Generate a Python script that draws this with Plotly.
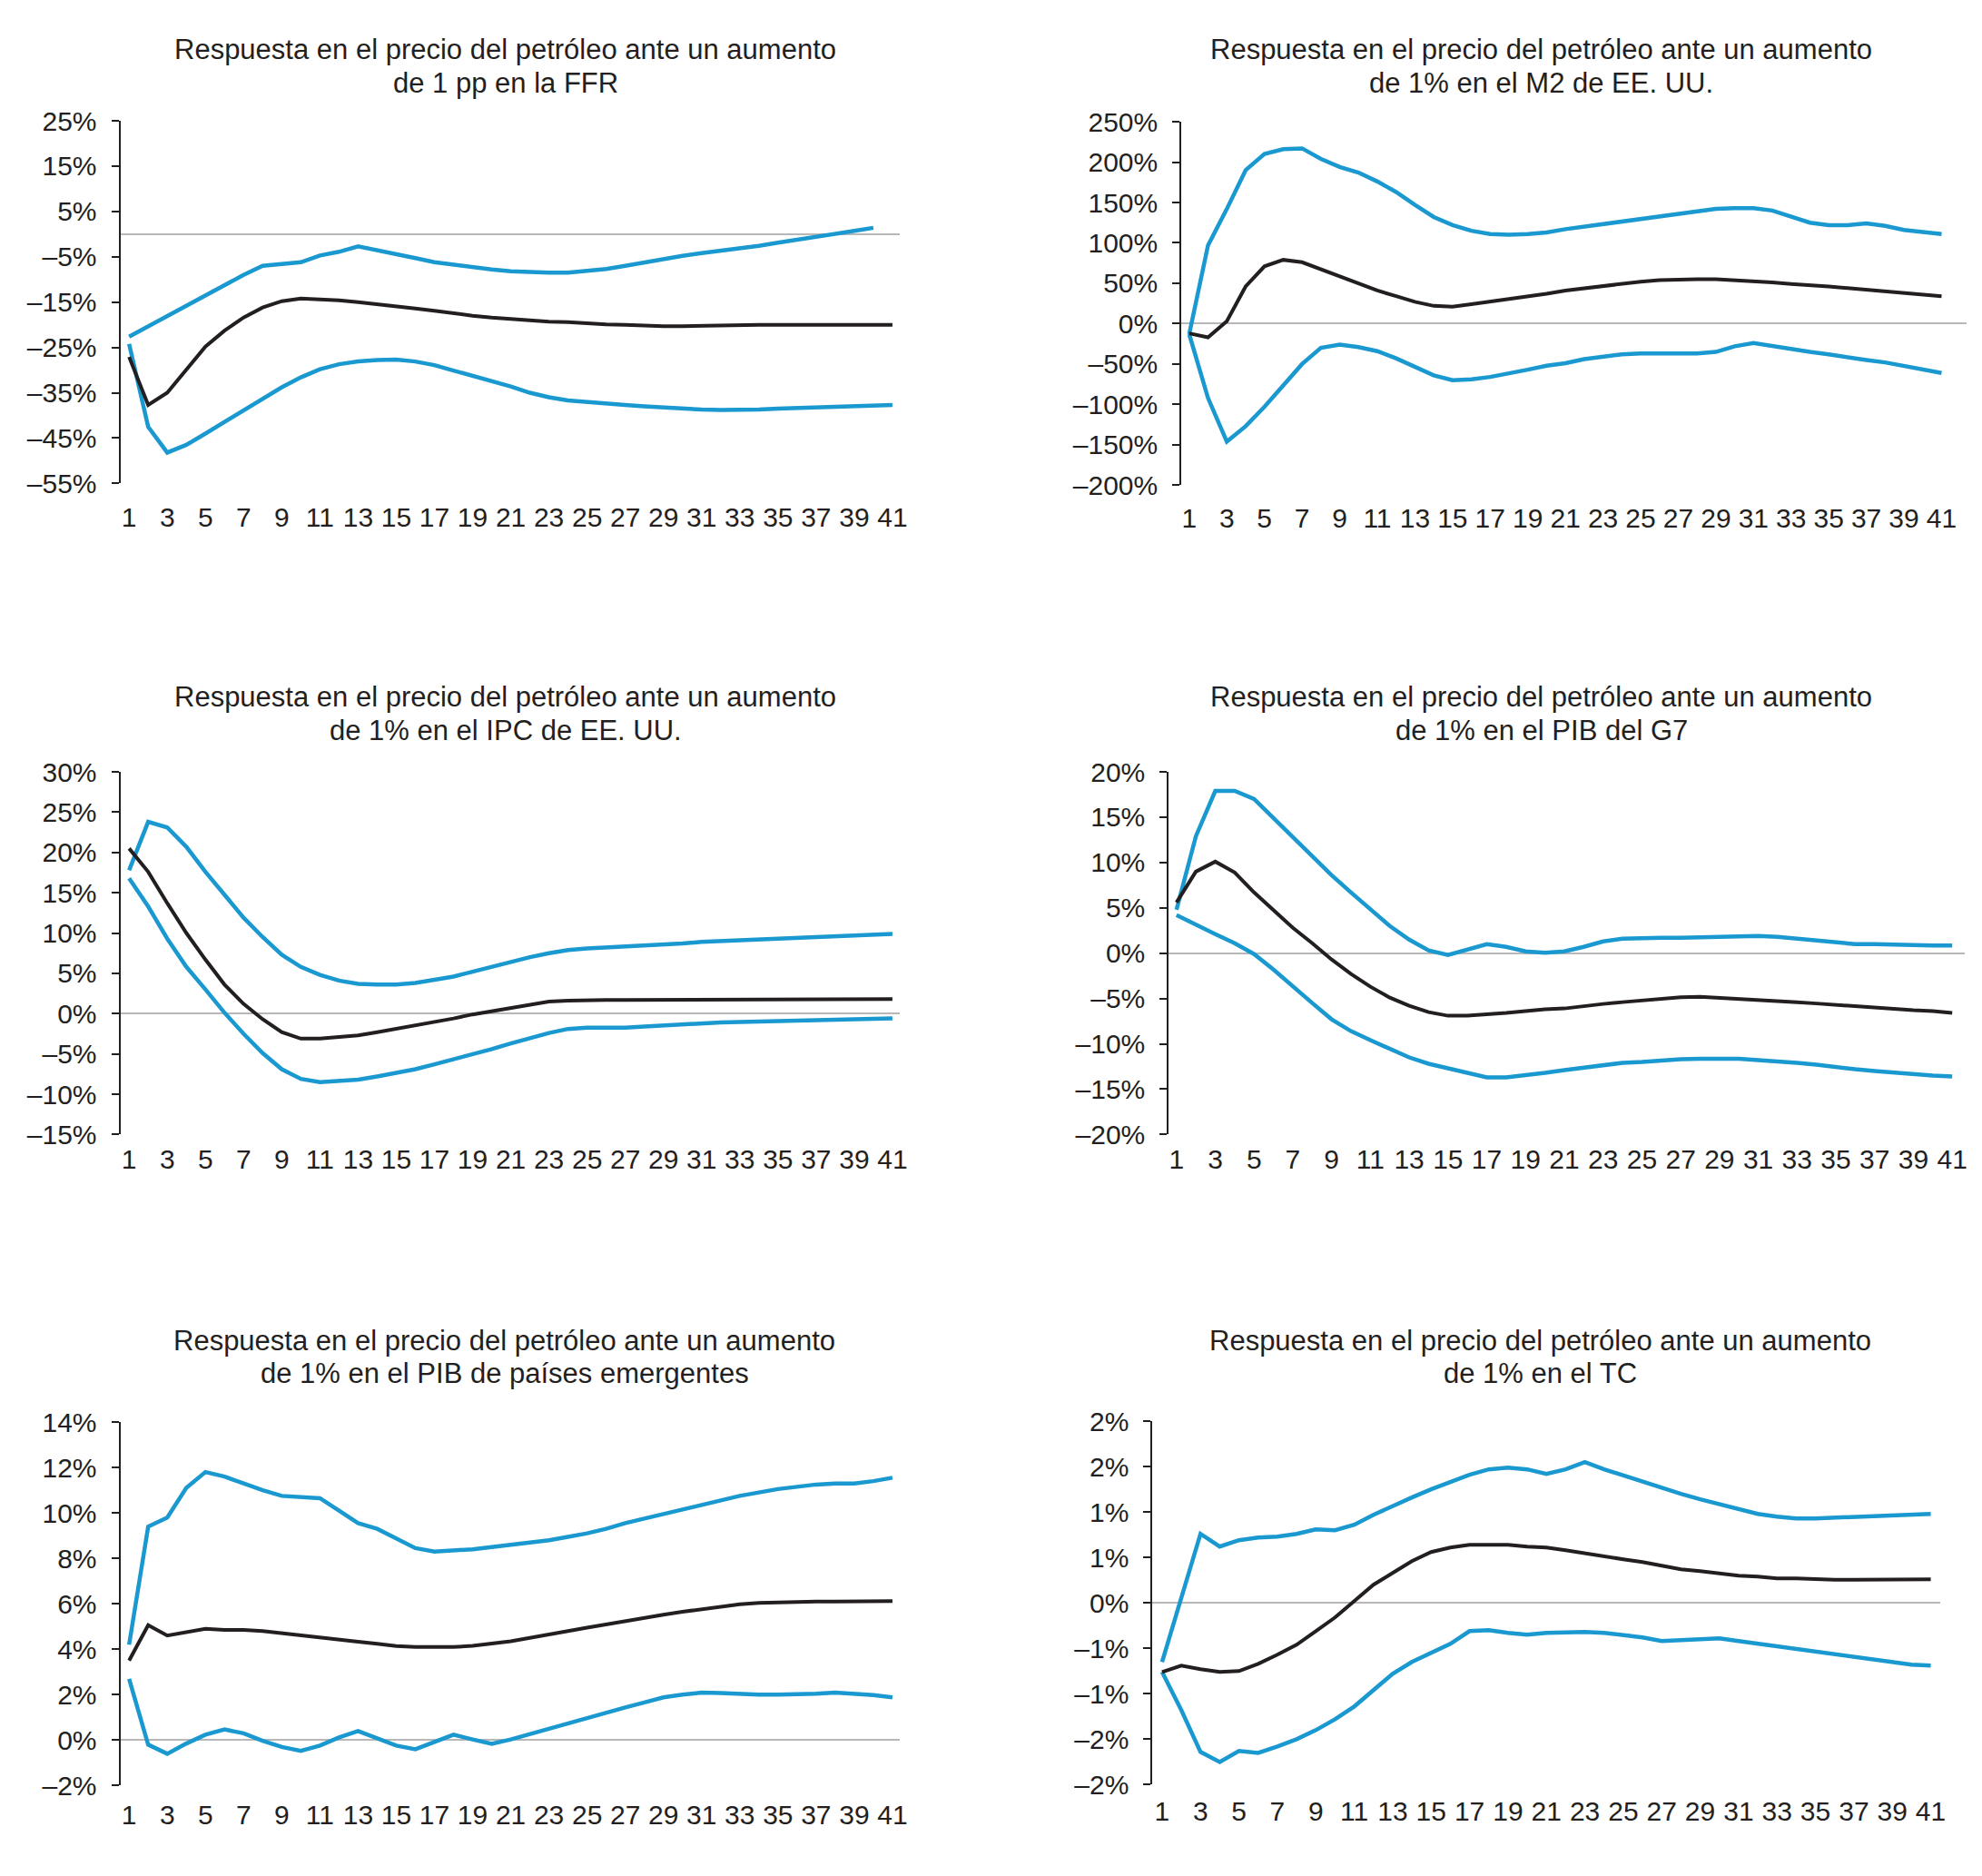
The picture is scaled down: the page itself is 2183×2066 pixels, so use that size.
import plotly.graph_objects as go

# ---------------- data ----------------
periods = list(range(1, 42))
x_tick_vals = list(range(1, 42, 2))
x_tick_text = [str(v) for v in x_tick_vals]

title_line1 = "Respuesta en el precio del petróleo ante un aumento"
titles_line2 = [
    "de 1 pp en la FFR",
    "de 1% en el M2 de EE. UU.",
    "de 1% en el IPC de EE. UU.",
    "de 1% en el PIB del G7",
    "de 1% en el PIB de países emergentes",
    "de 1% en el TC",
]

# Panel 1: FFR
ffr_upper = [-22.6, -20.3, -18.1, -15.8, -13.6, -11.3, -9.0, -7.0, -6.7, -6.2, -4.7, -3.9, -2.7, -3.5,
             -4.3, -5.3, -6.2, -6.8, -7.3, -7.8, -8.2, -8.4, -8.5, -8.5, -8.2, -7.7, -7.0, -6.2, -5.4,
             -4.8, -4.2, -3.7, -3.2, -2.6, -1.9, -1.3, -0.6, 0.1, 0.7, 1.4, None]
ffr_mid = [-27.1, -37.7, -35.0, -29.8, -24.8, -21.3, -18.4, -16.2, -14.8, -14.2, -14.3, -14.6, -15.0,
           -15.4, -15.8, -16.4, -16.9, -17.5, -18.0, -18.4, -18.7, -19.0, -19.3, -19.4, -19.7, -19.9,
           -20.0, -20.2, -20.3, -20.3, -20.2, -20.1, -20.0, -20.0, -20.0, -20.0, -20.0, -20.0, -20.0,
           -20.0, -20.0]
ffr_lower = [-24.2, -42.5, -48.2, -46.5, -44.0, -41.5, -39.0, -36.3, -33.8, -31.6, -29.8, -28.7, -28.1,
             -27.8, -27.7, -28.1, -28.9, -30.1, -31.2, -32.4, -33.6, -35.0, -36.0, -36.7, -37.1, -37.4,
             -37.7, -38.0, -38.3, -38.5, -38.7, -38.8, -38.8, -38.7, -38.5, -38.4, -38.2, -38.1, -37.9,
             -37.8, -37.7]

# Panel 2: M2
m2_upper = [-13, 97, 142, 190, 210, 216, 217, 204, 194, 187, 176, 163, 147, 132, 122, 115, 111, 110,
            111, 113, 117, 120, 123, 127, 130, 133, 136, 139, 142, 143, 143, 140, 132, 125, 122, 122,
            124, 121, 116, 113, 111]
m2_mid = [-12, -17, 3, 46, 71, 79, 76, 67, 58, 50, 41, 34, 27, 22, 21, 24, 27, 31, 34, 37, 41, 44, 47,
          50, 52, 54, 55, 55, 55, 54, 52, 51, 49, 48, 46, 44, 42, 40, 38, 36, 34]
m2_lower = [-13, -92, -146, -127, -103, -76, -50, -30, -26, -29, -34, -43, -54, -64, -70, -69, -66,
            -62, -57, -52, -49, -44, -41, -38, -37, -37, -37, -37, -35, -28, -24, -28, -32, -35, -38,
            -42, -45, -48, -52, -56, -61]

# Panel 3: IPC
ipc_upper = [17.8, 23.8, 23.1, 20.7, 17.6, 14.7, 11.9, 9.5, 7.3, 5.8, 4.8, 4.1, 3.7, 3.6, 3.6, 3.8,
             4.2, 4.6, 5.2, 5.8, 6.5, 7.0, 7.5, 7.9, 8.1, 8.2, 8.4, 8.5, 8.6, 8.7, 8.9, 9.0, 9.1, 9.2,
             9.3, 9.4, 9.5, 9.6, 9.7, 9.8, 9.9]
ipc_mid = [20.5, 17.6, 13.7, 10.0, 6.7, 3.6, 1.2, -0.7, -2.3, -3.1, -3.1, -2.9, -2.7, -2.3, -1.9, -1.5,
           -1.05, -0.6, -0.1, 0.3, 0.8, 1.2, 1.5, 1.6, 1.7, 1.7, 1.7, 1.7, 1.7, 1.7, 1.7, 1.7, 1.7,
           1.7, 1.7, 1.7, 1.7, 1.7, 1.75, 1.8, 1.8]
ipc_lower = [16.8, 13.3, 9.3, 5.8, 3.0, 0.1, -2.5, -4.9, -6.9, -8.1, -8.5, -8.4, -8.2, -7.8, -7.4,
             -6.9, -6.3, -5.7, -5.0, -4.4, -3.7, -3.0, -2.4, -1.9, -1.75, -1.75, -1.75, -1.6, -1.45,
             -1.3, -1.2, -1.1, -1.05, -1.0, -0.95, -0.9, -0.8, -0.75, -0.7, -0.65, -0.6]

# Panel 4: PIB G7
g7_upper = [4.8, 12.9, 17.9, 17.9, 17.0, 14.9, 12.7, 10.6, 8.6, 6.7, 4.8, 3.0, 1.5, 0.3, -0.2, 0.4,
            1.0, 0.7, 0.2, 0.05, 0.2, 0.7, 1.3, 1.6, 1.7, 1.7, 1.7, 1.75, 1.8, 1.85, 1.9, 1.8, 1.6,
            1.4, 1.2, 1.0, 1.0, 0.9, 0.9, 0.85, 0.85]
g7_mid = [5.6, 9.0, 10.1, 8.9, 6.7, 4.7, 2.8, 1.1, -0.7, -2.3, -3.7, -4.9, -5.8, -6.5, -6.9, -6.9,
          -6.8, -6.6, -6.4, -6.2, -6.1, -5.8, -5.6, -5.4, -5.2, -5.0, -4.85, -4.8, -4.9, -5.0, -5.2,
          -5.3, -5.4, -5.55, -5.7, -5.9, -6.0, -6.2, -6.3, -6.4, -6.6]
g7_lower = [4.2, 3.1, 2.1, 1.1, -0.1, -1.8, -3.7, -5.5, -7.3, -8.6, -9.6, -10.6, -11.5, -12.2, -12.7,
            -13.3, -13.7, -13.7, -13.5, -13.2, -12.9, -12.6, -12.3, -12.1, -12.0, -11.8, -11.7,
            -11.65, -11.6, -11.65, -11.8, -11.9, -12.1, -12.3, -12.6, -12.8, -13.0, -13.2, -13.3,
            -13.5, -13.6]

# Panel 5: PIB emergentes
em_upper = [4.2, 9.4, 9.8, 11.1, 11.8, 11.6, 11.3, 11.0, 10.75, 10.7, 10.65, 10.1, 9.55, 9.3, 8.85,
            8.45, 8.3, 8.35, 8.4, 8.5, 8.6, 8.7, 8.8, 8.95, 9.1, 9.3, 9.55, 9.75, 9.95, 10.15, 10.35,
            10.55, 10.75, 10.9, 11.05, 11.15, 11.25, 11.3, 11.3, 11.4, 11.55]
em_mid = [3.5, 5.06, 4.6, 4.75, 4.9, 4.85, 4.85, 4.8, 4.7, 4.6, 4.5, 4.4, 4.33, 4.24, 4.14, 4.1, 4.08,
          4.1, 4.15, 4.24, 4.35, 4.5, 4.63, 4.8, 4.95, 5.1, 5.25, 5.4, 5.52, 5.65, 5.77, 5.88, 5.98,
          6.04, 6.07, 6.09, 6.1, 6.1, 6.1, 6.1, 6.12]
em_lower = [2.7, -0.2, -0.6, -0.15, 0.24, 0.47, 0.3, -0.03, -0.3, -0.47, -0.24, 0.12, 0.4, 0.08,
            -0.24, -0.4, -0.08, 0.24, 0.03, -0.16, 0.03, 0.27, 0.5, 0.74, 0.97, 1.2, 1.44, 1.66, 1.88,
            2.0, 2.09, 2.07, 2.02, 2.0, 2.0, 2.0, 2.04, 2.09, 2.04, 1.98, 1.88]

# Panel 6: TC
tc_upper = [-0.65, 0.06, 0.76, 0.62, 0.69, 0.72, 0.73, 0.76, 0.81, 0.8, 0.86, 0.97, 1.07, 1.16, 1.25,
            1.33, 1.41, 1.47, 1.49, 1.47, 1.42, 1.47, 1.55, 1.47, 1.4, 1.33, 1.27, 1.2, 1.14, 1.09,
            1.03, 0.98, 0.95, 0.93, 0.93, 0.94, 0.95, 0.96, 0.97, 0.98, 0.98]
tc_mid = [-0.76, -0.69, -0.73, -0.76, -0.75, -0.67, -0.57, -0.46, -0.31, -0.16, 0.02, 0.2, 0.33, 0.46,
          0.56, 0.61, 0.64, 0.64, 0.64, 0.62, 0.61, 0.58, 0.55, 0.52, 0.48, 0.45, 0.41, 0.37, 0.35,
          0.32, 0.3, 0.29, 0.27, 0.27, 0.26, 0.255, 0.255, 0.255, 0.255, 0.255, 0.26]
tc_lower = [-0.76, -1.18, -1.64, -1.75, -1.63, -1.65, -1.58, -1.5, -1.4, -1.28, -1.14, -0.96, -0.78,
            -0.65, -0.55, -0.45, -0.31, -0.3, -0.33, -0.35, -0.33, -0.32, -0.32, -0.33, -0.35, -0.38,
            -0.42, -0.41, -0.39, -0.39, -0.42, -0.45, -0.48, -0.51, -0.54, -0.57, -0.6, -0.63,
            -0.65, -0.68, -0.69]

# y tick values and labels
p1_ticks = [-55, -45, -35, -25, -15, -5, 5, 15, 25]
p1_labels = ["–55%", "–45%", "–35%", "–25%", "–15%", "–5%", "5%", "15%", "25%"]
p2_ticks = [-200, -150, -100, -50, 0, 50, 100, 150, 200, 250]
p2_labels = ["–200%", "–150%", "–100%", "–50%", "0%", "50%", "100%", "150%", "200%", "250%"]
p3_ticks = [-15, -10, -5, 0, 5, 10, 15, 20, 25, 30]
p3_labels = ["–15%", "–10%", "–5%", "0%", "5%", "10%", "15%", "20%", "25%", "30%"]
p4_ticks = [-20, -15, -10, -5, 0, 5, 10, 15, 20]
p4_labels = ["–20%", "–15%", "–10%", "–5%", "0%", "5%", "10%", "15%", "20%"]
p5_ticks = [-2, 0, 2, 4, 6, 8, 10, 12, 14]
p5_labels = ["–2%", "0%", "2%", "4%", "6%", "8%", "10%", "12%", "14%"]
p6_ticks = [-2, -1.5, -1, -0.5, 0, 0.5, 1, 1.5, 2]
p6_labels = ["–2%", "–2%", "–1%", "–1%", "0%", "1%", "1%", "2%", "2%"]

# ---------------- layout / style ----------------
W, H = 2183, 2066
BLUE = "#1a98d0"
BLACK = "#231f20"
GRAY = "#b8b8b8"
FONT = "Liberation Sans, Arial, sans-serif"

# box = (left, right, top, bottom) in px; xr = x range; title = (center x, line1 y, line2 y)
panels = [
    dict(upper=ffr_upper, mid=ffr_mid, lower=ffr_lower, ticks=p1_ticks, labels=p1_labels,
         box=(133, 995, 118, 524), xr=(0.54, 41.4), title=(559, 38, 76), xlen=11),
    dict(upper=m2_upper, mid=m2_mid, lower=m2_lower, ticks=p2_ticks, labels=p2_labels,
         box=(1306, 2174, 119, 526), xr=(0.585, 42.33), title=(1704, 38, 76), xlen=10),
    dict(upper=ipc_upper, mid=ipc_mid, lower=ipc_lower, ticks=p3_ticks, labels=p3_labels,
         box=(133, 995, 847, 1253), xr=(0.54, 41.4), title=(559, 763, 801), xlen=1),
    dict(upper=g7_upper, mid=g7_mid, lower=g7_lower, ticks=p4_ticks, labels=p4_labels,
         box=(1292, 2172, 847, 1253), xr=(0.6, 41.65), title=(1704, 763, 801), xlen=1),
    dict(upper=em_upper, mid=em_mid, lower=em_lower, ticks=p5_ticks, labels=p5_labels,
         box=(133, 995, 1575, 1982), xr=(0.54, 41.4), title=(558, 1484, 1521), xlen=6),
    dict(upper=tc_upper, mid=tc_mid, lower=tc_lower, ticks=p6_ticks, labels=p6_labels,
         box=(1274, 2145, 1574, 1981), xr=(0.5, 41.5), title=(1703, 1484, 1521), xlen=3),
]

fig = go.Figure()
annotations = []
layout = {}
for i, p in enumerate(panels, start=1):
    xa = "x" if i == 1 else f"x{i}"
    ya = "y" if i == 1 else f"y{i}"
    for series, color, width in ((p["upper"], BLUE, 4.5), (p["lower"], BLUE, 4.5), (p["mid"], BLACK, 4)):
        fig.add_trace(go.Scatter(x=periods, y=series, mode="lines",
                                 line=dict(color=color, width=width),
                                 xaxis=xa, yaxis=ya, showlegend=False, hoverinfo="skip"))
    x0, x1, y0, y1 = p["box"]
    layout["xaxis" if i == 1 else f"xaxis{i}"] = dict(
        domain=[x0 / W, x1 / W], range=list(p["xr"]), anchor=ya,
        tickvals=x_tick_vals, ticktext=x_tick_text,
        showline=False, showgrid=False, zeroline=False,
        ticks="outside", ticklen=p["xlen"], tickcolor="rgba(0,0,0,0)",
        tickfont=dict(size=30, color=BLACK, family=FONT),
    )
    layout["yaxis" if i == 1 else f"yaxis{i}"] = dict(
        domain=[1 - y1 / H, 1 - y0 / H], range=[p["ticks"][0], p["ticks"][-1]], anchor=xa,
        tickvals=p["ticks"], ticktext=p["labels"],
        showline=True, linecolor=BLACK, linewidth=2,
        ticks="outside", ticklen=8, tickwidth=2, tickcolor=BLACK,
        showgrid=False, zeroline=True, zerolinecolor=GRAY, zerolinewidth=2,
        ticklabelstandoff=10,
        tickfont=dict(size=30, color=BLACK, family=FONT),
    )
    cx, ty1, ty2 = p["title"]
    for text, ty in ((title_line1, ty1), (titles_line2[i - 1], ty2)):
        annotations.append(dict(text=text, x=cx / W, y=1 - ty / H, xref="paper", yref="paper",
                                xanchor="center", yanchor="middle", showarrow=False,
                                font=dict(size=31, color=BLACK, family=FONT)))

fig.update_layout(
    width=W, height=H, autosize=False,
    margin=dict(l=0, r=0, t=0, b=0),
    paper_bgcolor="white", plot_bgcolor="white",
    showlegend=False, annotations=annotations,
    font=dict(family=FONT, color=BLACK),
    **layout,
)

fig.write_html("out.html", config={"displayModeBar": False, "staticPlot": True},
               post_script="document.body.style.margin='0px';")
